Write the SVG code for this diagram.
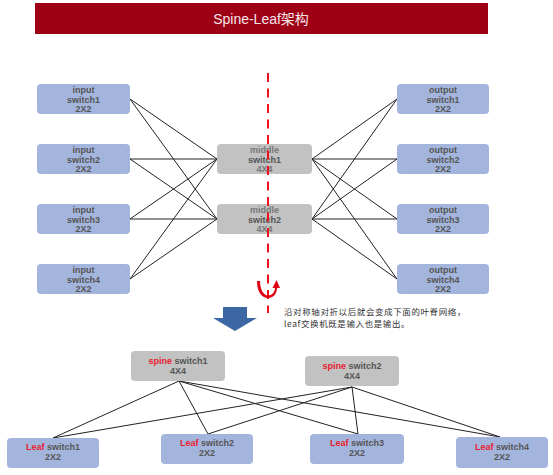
<svg xmlns="http://www.w3.org/2000/svg" width="553" height="475" viewBox="0 0 553 475">
<style>
.in{fill:#a4b5dd}
.gr{fill:#c2c2c2}
.t{font-family:"Liberation Sans","Noto Sans CJK SC",sans-serif;font-size:9px;font-weight:bold;fill:#555;text-anchor:middle}
.red{fill:#e8202e}
.cn{font-family:"Noto Sans CJK SC","Liberation Sans",sans-serif;font-size:8.5px;letter-spacing:0.6px;fill:#333}
.c line{stroke:#222;stroke-width:1}
</style>
<rect width="553" height="475" fill="#fff"/>
<g id="title">
<rect x="35" y="3" width="453" height="31" fill="#9e0016"/>
<text x="261" y="24" font-family="Liberation Sans,'Noto Sans CJK SC',sans-serif" font-size="14" fill="#f6e6e8" text-anchor="middle">Spine-Leaf架构</text>
</g>
<g class="c" id="connectors">
<line x1="130" y1="99" x2="217" y2="159"/><line x1="130" y1="99" x2="217" y2="219"/>
<line x1="130" y1="159" x2="217" y2="159"/><line x1="130" y1="159" x2="217" y2="219"/>
<line x1="130" y1="219" x2="217" y2="159"/><line x1="130" y1="219" x2="217" y2="219"/>
<line x1="130" y1="279" x2="217" y2="159"/><line x1="130" y1="279" x2="217" y2="219"/>
<line x1="312" y1="159" x2="397" y2="99"/><line x1="312" y1="219" x2="397" y2="99"/>
<line x1="312" y1="159" x2="397" y2="159"/><line x1="312" y1="219" x2="397" y2="159"/>
<line x1="312" y1="159" x2="397" y2="219"/><line x1="312" y1="219" x2="397" y2="219"/>
<line x1="312" y1="159" x2="397" y2="279"/><line x1="312" y1="219" x2="397" y2="279"/>
<line x1="179" y1="381" x2="53" y2="438"/><line x1="179" y1="381" x2="208" y2="434"/>
<line x1="179" y1="381" x2="358" y2="434"/><line x1="179" y1="381" x2="500" y2="437"/>
<line x1="352" y1="387" x2="53" y2="438"/><line x1="352" y1="387" x2="208" y2="434"/>
<line x1="352" y1="387" x2="358" y2="434"/><line x1="352" y1="387" x2="500" y2="437"/>
</g>
<g id="input1"><rect class="in" x="37" y="84" width="93" height="30" rx="4"/><text class="t" x="83.5" y="93">input</text><text class="t" x="83.5" y="103">switch1</text><text class="t" x="83.5" y="112">2X2</text></g>
<g id="input2"><rect class="in" x="37" y="144" width="93" height="30" rx="4"/><text class="t" x="83.5" y="153">input</text><text class="t" x="83.5" y="163">switch2</text><text class="t" x="83.5" y="172">2X2</text></g>
<g id="input3"><rect class="in" x="37" y="204" width="93" height="30" rx="4"/><text class="t" x="83.5" y="213">input</text><text class="t" x="83.5" y="223">switch3</text><text class="t" x="83.5" y="232">2X2</text></g>
<g id="input4"><rect class="in" x="37" y="264" width="93" height="30" rx="4"/><text class="t" x="83.5" y="273">input</text><text class="t" x="83.5" y="283">switch4</text><text class="t" x="83.5" y="292">2X2</text></g>
<g id="middle1"><rect class="gr" x="217" y="144" width="95" height="30" rx="4"/><text class="t" x="264.5" y="153" style="fill:#777">middle</text><text class="t" x="264.5" y="163">switch1</text><text class="t" x="264.5" y="172" style="fill:#777">4X4</text></g>
<g id="middle2"><rect class="gr" x="217" y="204" width="95" height="30" rx="4"/><text class="t" x="264.5" y="213" style="fill:#777">middle</text><text class="t" x="264.5" y="223">switch2</text><text class="t" x="264.5" y="232" style="fill:#777">4X4</text></g>
<g id="output1"><rect class="in" x="397" y="84" width="92" height="30" rx="4"/><text class="t" x="443" y="93">output</text><text class="t" x="443" y="103">switch1</text><text class="t" x="443" y="112">2X2</text></g>
<g id="output2"><rect class="in" x="397" y="144" width="92" height="30" rx="4"/><text class="t" x="443" y="153">output</text><text class="t" x="443" y="163">switch2</text><text class="t" x="443" y="172">2X2</text></g>
<g id="output3"><rect class="in" x="397" y="204" width="92" height="30" rx="4"/><text class="t" x="443" y="213">output</text><text class="t" x="443" y="223">switch3</text><text class="t" x="443" y="232">2X2</text></g>
<g id="output4"><rect class="in" x="397" y="264" width="92" height="30" rx="4"/><text class="t" x="443" y="273">output</text><text class="t" x="443" y="283">switch4</text><text class="t" x="443" y="292">2X2</text></g>
<g id="axis">
<line x1="268" y1="73" x2="268" y2="313" stroke="#f01020" stroke-width="2" stroke-dasharray="9,6.5"/>
<path d="M257,281 C257,292 262,298 268,298 C273,298 277,294 277,288 L280,288 L276.5,280 L272.5,288 L275,288 C275,292 272,295.5 268,295.5 C264,295.5 260,290 260,281 Z" fill="#e00010"/>
</g>
<g id="down-arrow"><path d="M223,307 L247,307 L247,318 L257,318 L235,331 L213,318 L223,318 Z" fill="#3b67a4"/></g>
<g id="note">
<text class="cn" x="284" y="314.5">沿对称轴对折以后就会变成下面的叶脊网络，</text>
<text class="cn" x="284" y="326.5">leaf交换机既是输入也是输出。</text>
</g>
<g id="spine1"><rect class="gr" x="131" y="351" width="94" height="30" rx="4"/><text class="t" x="178" y="364"><tspan class="red">spine</tspan> switch1</text><text class="t" x="178" y="374">4X4</text></g>
<g id="spine2"><rect class="gr" x="305" y="356" width="94" height="30" rx="4"/><text class="t" x="352" y="369"><tspan class="red">spine</tspan> switch2</text><text class="t" x="352" y="379">4X4</text></g>
<g id="leaf1"><rect class="in" x="7" y="438" width="92" height="30" rx="4"/><text class="t" x="53" y="450"><tspan class="red">Leaf</tspan> switch1</text><text class="t" x="53" y="460">2X2</text></g>
<g id="leaf2"><rect class="in" x="161" y="434" width="92" height="30" rx="4"/><text class="t" x="207" y="446"><tspan class="red">Leaf</tspan> switch2</text><text class="t" x="207" y="456">2X2</text></g>
<g id="leaf3"><rect class="in" x="310" y="434" width="94" height="30" rx="4"/><text class="t" x="357" y="446"><tspan class="red">Leaf</tspan> switch3</text><text class="t" x="357" y="456">2X2</text></g>
<g id="leaf4"><rect class="in" x="456" y="437" width="92" height="31" rx="4"/><text class="t" x="502" y="450"><tspan class="red">Leaf</tspan> switch4</text><text class="t" x="502" y="460">2X2</text></g>
</svg>
